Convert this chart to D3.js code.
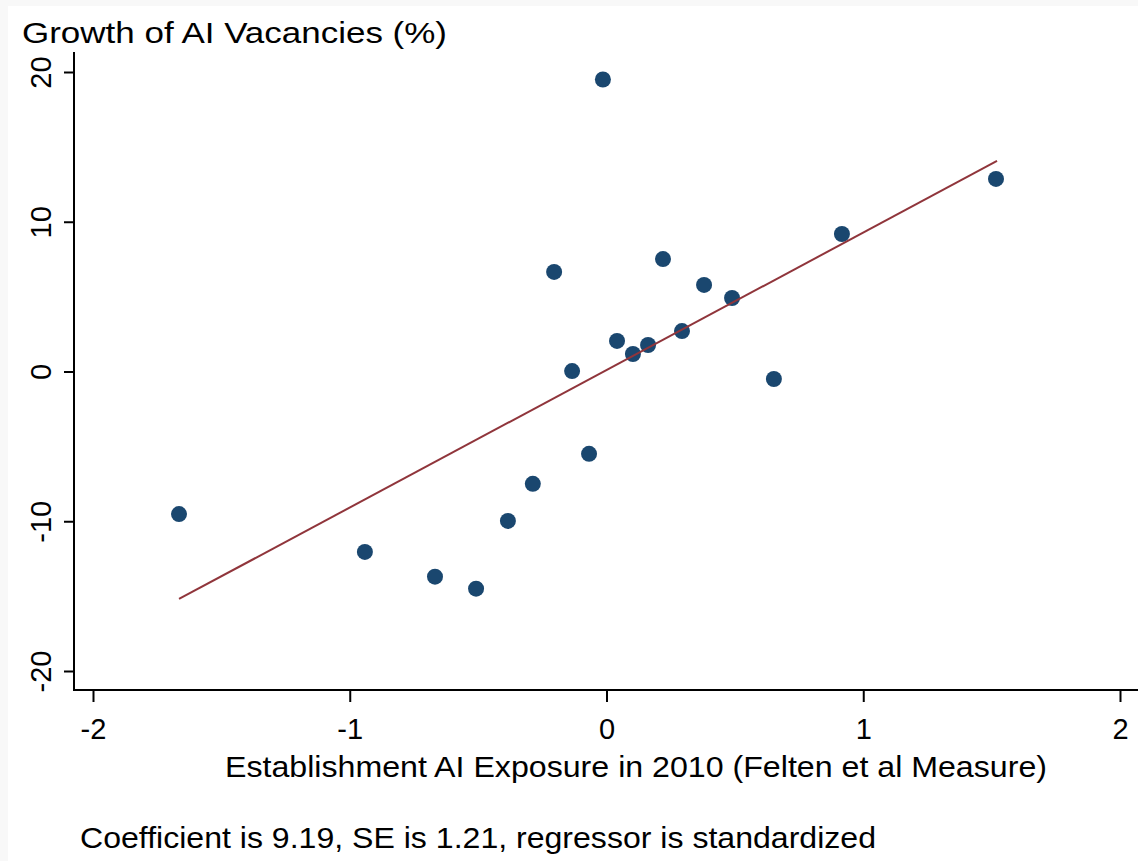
<!DOCTYPE html>
<html>
<head>
<meta charset="utf-8">
<script src="https://cdn.jsdelivr.net/npm/d3@7"></script>
<style>
  body { margin: 0; background: #f8f8f8; }
  svg { display: block; }
  text { font-family: "Liberation Sans", Arial, sans-serif; fill: #000; }
</style>
</head>
<body>
<div class="container"></div>
<script>
// establishment AI exposure (standardized) and growth of AI vacancies (%)
var exposure = [-1.665, -0.941, -0.668, -0.508, -0.384, -0.287, -0.068, -0.134, -0.204, -0.014,
                0.041, 0.103, 0.162, 0.220, 0.294, 0.380, 0.489, 0.652, 0.917, 1.517];
var growth = [-9.52, -12.05, -13.7, -14.5, -9.98, -7.5, -5.5, 0.03, 6.65, 19.5,
              2.04, 1.17, 1.77, 7.51, 2.7, 5.78, 4.91, -0.5, 9.18, 12.86];
// fitted values at the ends of the data range
var fitLine = [[-1.665, -15.19], [1.521, 14.06]];

var xTicks = [-2, -1, 0, 1, 2];
var yTicks = [-20, -10, 0, 10, 20];

var yTitle = "Growth of AI Vacancies (%)";
var xTitle = "Establishment AI Exposure in 2010 (Felten et al Measure)";
var note = "Coefficient is 9.19, SE is 1.21, regressor is standardized";

const WIDTH = 1138;
const HEIGHT = 861;

var svg = d3.select('.container').append('svg')
  .attr('width', WIDTH)
  .attr('height', HEIGHT);

svg.append('rect')
  .attr('x', 8).attr('y', 6)
  .attr('width', WIDTH - 8).attr('height', HEIGHT - 6)
  .attr('fill', '#fff');

var xScale = d3.scaleLinear().domain([-2, 2]).range([93, 1120]);
var yScale = d3.scaleLinear().domain([-20, 20]).range([671, 72]);

var points = exposure.map(function(d, i){ return [d, growth[i]]; });

// plain hyphen for negatives, like the original
var fmt = function(d){ return String(d); };

// axes
var xAxis = d3.axisBottom(xScale).tickValues(xTicks).tickSize(12).tickPadding(16)
  .tickFormat(fmt);
var yAxis = d3.axisLeft(yScale).tickValues(yTicks).tickSize(10).tickPadding(0)
  .tickFormat(fmt);

var gx = svg.append('g')
  .attr('transform', 'translate(0,690)')
  .call(xAxis);
gx.select('.domain').remove();
gx.append('line')
  .attr('x1', 74).attr('x2', WIDTH)
  .attr('stroke', '#000').attr('stroke-width', 2);
gx.selectAll('.tick line').attr('stroke-width', 2);
gx.selectAll('.tick text')
  .attr('font-size', 29)
  .attr('dy', '0.71em');

var gy = svg.append('g')
  .attr('transform', 'translate(74,0)')
  .call(yAxis);
gy.select('.domain').remove();
gy.append('line')
  .attr('y1', 52).attr('y2', 691)
  .attr('stroke', '#000').attr('stroke-width', 2);
gy.selectAll('.tick line').attr('stroke-width', 2);
gy.selectAll('.tick text')
  .attr('font-size', 29)
  .attr('text-anchor', 'middle')
  .attr('x', 0).attr('dy', 0)
  .attr('transform', 'translate(-23,0) rotate(-90)');

// scatter
svg.append('g').selectAll('circle')
  .data(points)
  .enter().append('circle')
  .attr('cx', function(d){ return xScale(d[0]); })
  .attr('cy', function(d){ return yScale(d[1]); })
  .attr('r', 8)
  .attr('fill', '#1a476f');

// fitted line
var line = d3.line()
  .x(function(d){ return xScale(d[0]); })
  .y(function(d){ return yScale(d[1]); });

svg.append('path')
  .datum(fitLine)
  .attr('d', line)
  .attr('fill', 'none')
  .attr('stroke', '#90353b')
  .attr('stroke-width', 2);

// titles (the original's text is a bit wider than the font's natural width)
svg.append('text')
  .attr('x', 22).attr('y', 43)
  .attr('font-size', 30)
  .attr('textLength', 425)
  .attr('lengthAdjust', 'spacingAndGlyphs')
  .text(yTitle);

svg.append('text')
  .attr('x', 225).attr('y', 777)
  .attr('font-size', 29)
  .attr('textLength', 822)
  .attr('lengthAdjust', 'spacingAndGlyphs')
  .text(xTitle);

svg.append('text')
  .attr('x', 80).attr('y', 848)
  .attr('font-size', 29)
  .attr('textLength', 796)
  .attr('lengthAdjust', 'spacingAndGlyphs')
  .text(note);
</script>
</body>
</html>
